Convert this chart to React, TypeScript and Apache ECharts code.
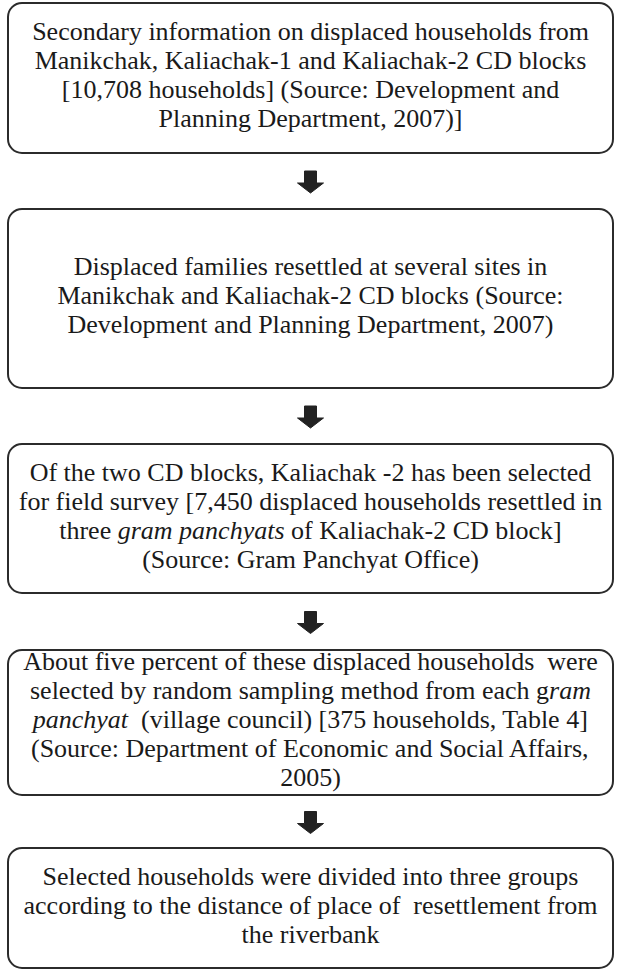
import React, { useEffect, useRef } from "react";
import * as echarts from "echarts";

// Text of each step of the flow ({i|...} marks italic words)
const STEP_1 = [
  "Secondary information on displaced households from",
  "Manikchak, Kaliachak-1 and Kaliachak-2 CD blocks",
  "[10,708 households] (Source: Development and",
  "Planning Department, 2007)]",
];
const STEP_2 = [
  "Displaced families resettled at several sites in",
  "Manikchak and Kaliachak-2 CD blocks (Source:",
  "Development and Planning Department, 2007)",
];
const STEP_3 = [
  "Of the two CD blocks, Kaliachak -2 has been selected",
  "for field survey [7,450 displaced households resettled in",
  "three {i|gram panchyats} of Kaliachak-2 CD block]",
  "(Source: Gram Panchyat Office)",
];
const STEP_4 = [
  "About five percent of these displaced households  were",
  "selected by random sampling method from each g{i|ram}",
  "{i|panchyat}  (village council) [375 households, Table 4]",
  "(Source: Department of Economic and Social Affairs,",
  "2005)",
];
const STEP_5 = [
  "Selected households were divided into three groups",
  "according to the distance of place of  resettlement from",
  "the riverbank",
];
const STEPS = [STEP_1, STEP_2, STEP_3, STEP_4, STEP_5];

// Layout (pixels)
const BOX_LEFT = 8;
const BOX_RIGHT = 613;
const BOX_TOPS = [3, 209, 444, 650, 848];
const BOX_BOTTOMS = [153, 388, 593, 795, 968];
const LINE_H = 29;
const TEXT_SHIFT = -3;
const FONT_FAMILY = "'Liberation Serif', 'Times New Roman', 'DejaVu Serif', serif";
const FONT_SIZE = 26;
const TEXT_COLOR = "#1a1a1a";

function parseSegments(line: string) {
  const segs: { text: string; italic: boolean }[] = [];
  const re = /\{i\|([^}]*)\}/g;
  let last = 0;
  let m: RegExpExecArray | null;
  while ((m = re.exec(line))) {
    if (m.index > last) segs.push({ text: line.slice(last, m.index), italic: false });
    segs.push({ text: m[1], italic: true });
    last = m.index + m[0].length;
  }
  if (last < line.length) segs.push({ text: line.slice(last), italic: false });
  return segs;
}

export default function App() {
  const ref = useRef<HTMLDivElement>(null);
  useEffect(() => {
    document.body.style.margin = "0";
    const chart = echarts.init(ref.current!, null, { renderer: "svg" });
    const ctx = document.createElement("canvas").getContext("2d")!;
    const measure = (t: string, italic: boolean) => {
      ctx.font = `${italic ? "italic " : ""}${FONT_SIZE}px ${FONT_FAMILY}`;
      return ctx.measureText(t).width;
    };
    const elements: any[] = [];
    const cx = (BOX_LEFT + BOX_RIGHT) / 2;
    STEPS.forEach((lines, i) => {
      const top = BOX_TOPS[i];
      const bottom = BOX_BOTTOMS[i];
      elements.push({
        type: "rect",
        shape: { x: BOX_LEFT, y: top, width: BOX_RIGHT - BOX_LEFT, height: bottom - top, r: 14 },
        style: { fill: "#ffffff", stroke: "#2b2b2b", lineWidth: 2 },
      });
      const mid = (top + bottom) / 2 + TEXT_SHIFT;
      const first = mid - ((lines.length - 1) * LINE_H) / 2;
      lines.forEach((ln, j) => {
        const segs = parseSegments(ln);
        const widths = segs.map((s) => measure(s.text, s.italic));
        const total = widths.reduce((a, b) => a + b, 0);
        let x = cx - total / 2;
        segs.forEach((s, k) => {
          const st: any = { text: s.text, fill: TEXT_COLOR, fontFamily: FONT_FAMILY, fontSize: FONT_SIZE };
          if (s.italic) st.fontStyle = "italic";
          elements.push({ type: "text", z: 5, x, y: first + j * LINE_H - FONT_SIZE / 2, style: st });
          x += widths[k];
        });
      });
      if (i < STEPS.length - 1) {
        const a0 = bottom + (BOX_TOPS[i + 1] - bottom) / 2 - 10;
        const a1 = a0 + 22;
        const shaftH = 12;
        elements.push({
          type: "polygon",
          shape: {
            points: [
              [cx - 6, a0],
              [cx + 6, a0],
              [cx + 6, a0 + shaftH],
              [cx + 13, a0 + shaftH],
              [cx, a1],
              [cx - 13, a0 + shaftH],
              [cx - 6, a0 + shaftH],
            ],
          },
          style: { fill: "#222222", stroke: "#222222", lineWidth: 1 },
        });
      }
    });
    chart.setOption({
      animation: false,
      textStyle: { fontFamily: FONT_FAMILY },
      graphic: { elements },
    });
    return () => chart.dispose();
  }, []);
  return <div ref={ref} style={{ width: 621, height: 976 }} />;
}
